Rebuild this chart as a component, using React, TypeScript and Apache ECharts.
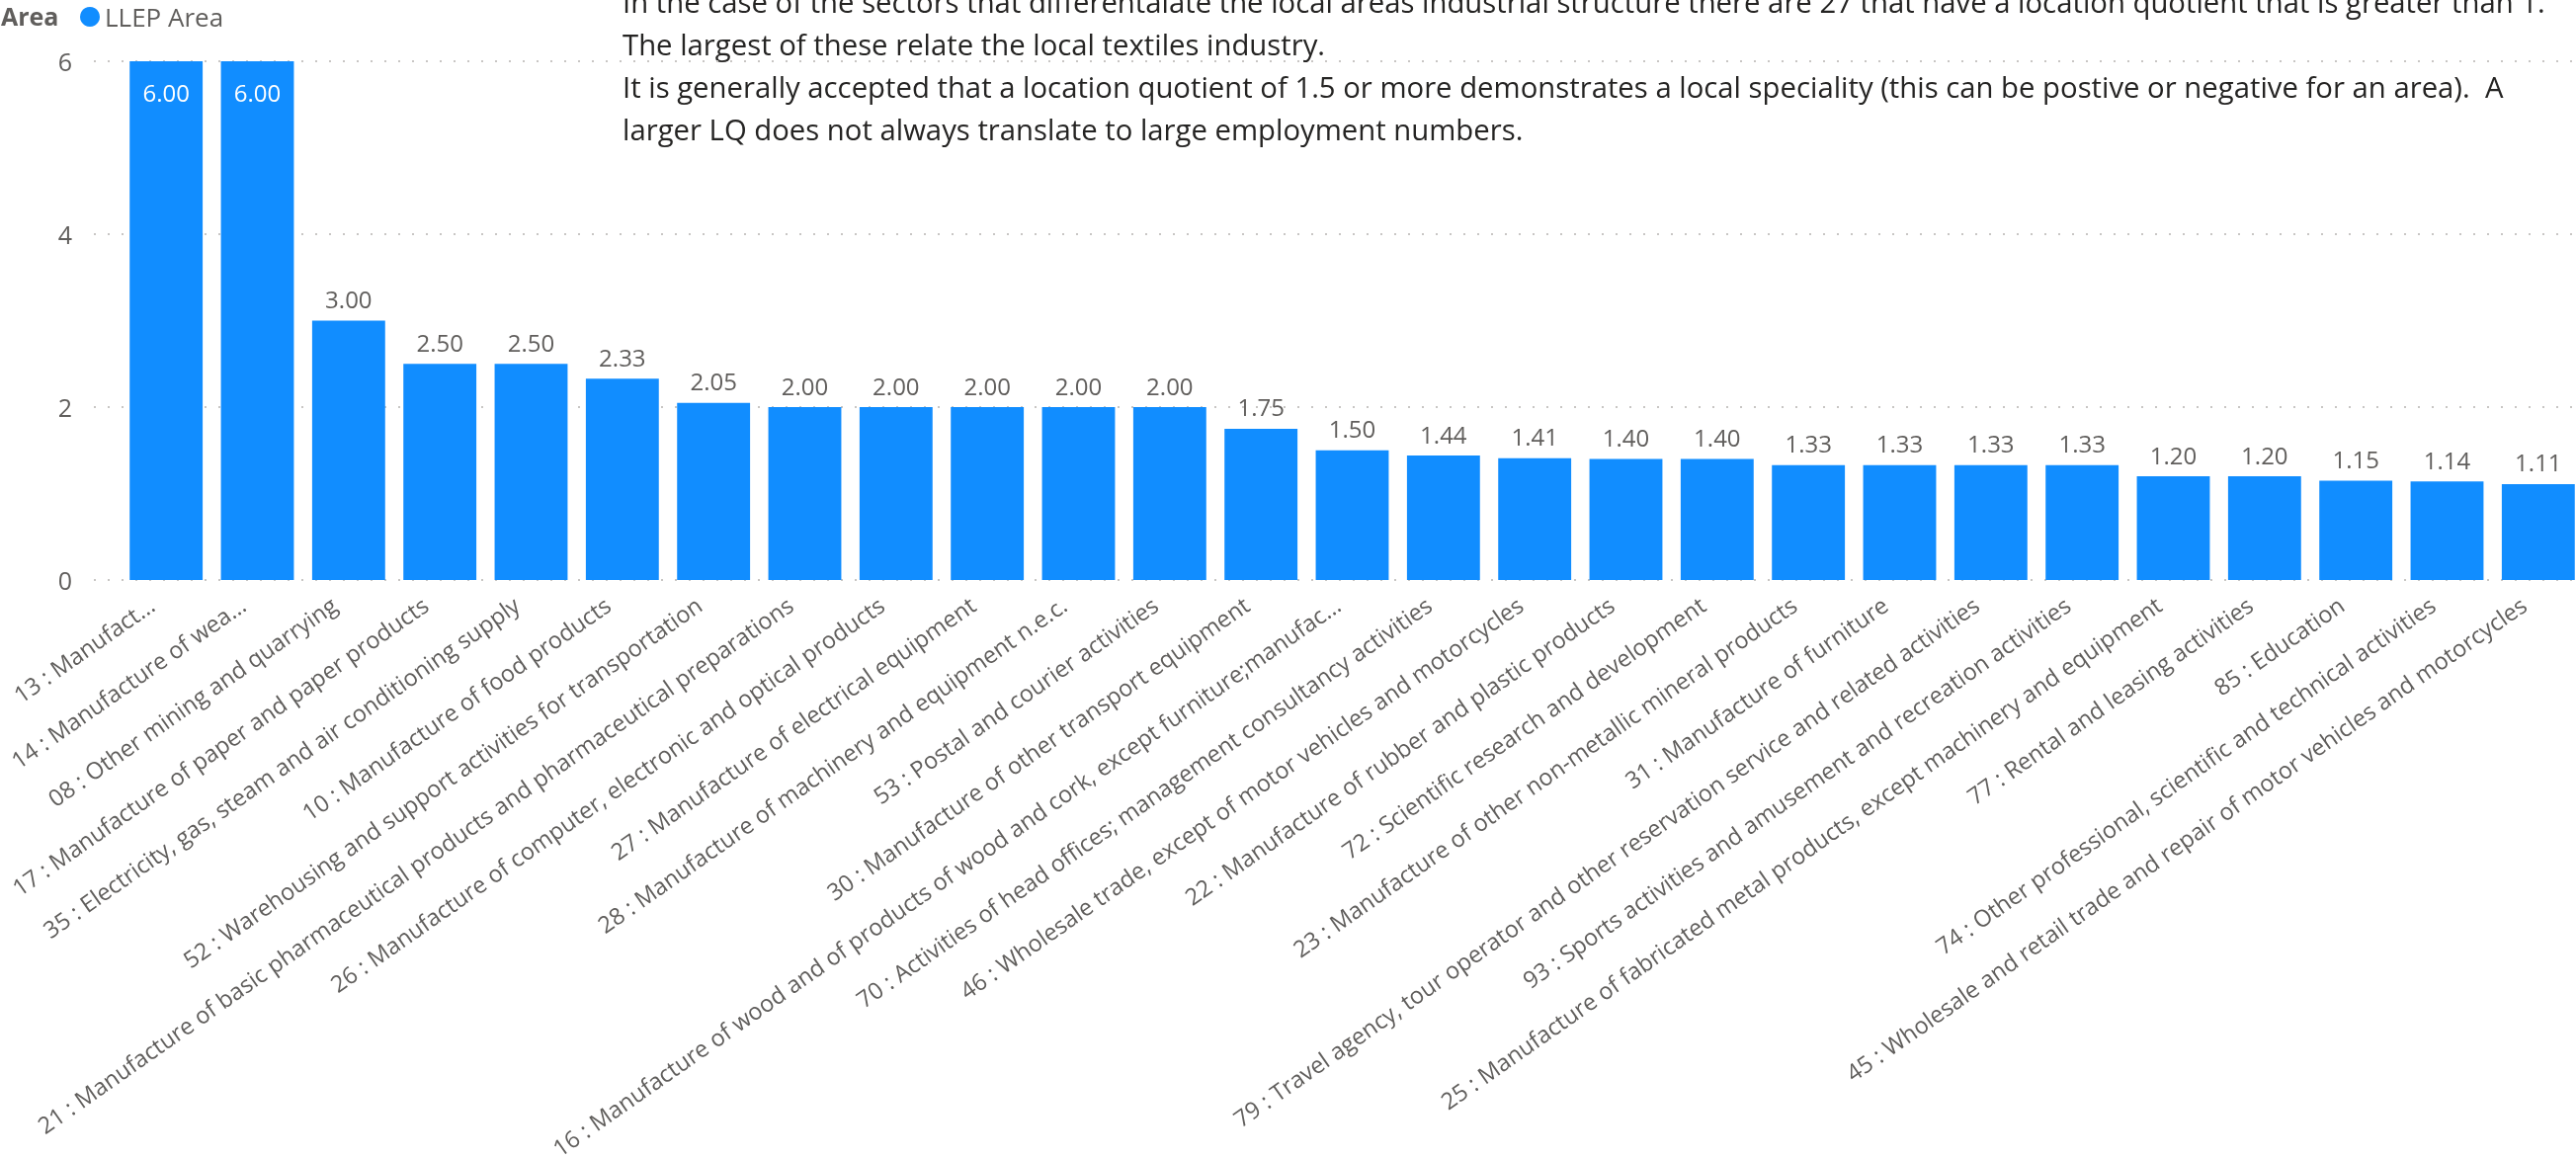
import React, { useEffect, useRef } from "react";
import * as echarts from "echarts";

const categories: string[] = [
  "13 : Manufact...",
  "14 : Manufacture of wea...",
  "08 : Other mining and quarrying",
  "17 : Manufacture of paper and paper products",
  "35 : Electricity, gas, steam and air conditioning supply",
  "10 : Manufacture of food products",
  "52 : Warehousing and support activities for transportation",
  "21 : Manufacture of basic pharmaceutical products and pharmaceutical preparations",
  "26 : Manufacture of computer, electronic and optical products",
  "27 : Manufacture of electrical equipment",
  "28 : Manufacture of machinery and equipment n.e.c.",
  "53 : Postal and courier activities",
  "30 : Manufacture of other transport equipment",
  "16 : Manufacture of wood and of products of wood and cork, except furniture;manufac...",
  "70 : Activities of head offices; management consultancy activities",
  "46 : Wholesale trade, except of motor vehicles and motorcycles",
  "22 : Manufacture of rubber and plastic products",
  "72 : Scientific research and development",
  "23 : Manufacture of other non-metallic mineral products",
  "31 : Manufacture of furniture",
  "79 : Travel agency, tour operator and other reservation service and related activities",
  "93 : Sports activities and amusement and recreation activities",
  "25 : Manufacture of fabricated metal products, except machinery and equipment",
  "77 : Rental and leasing activities",
  "85 : Education",
  "74 : Other professional, scientific and technical activities",
  "45 : Wholesale and retail trade and repair of motor vehicles and motorcycles",
];

const llepValues: number[] = [
  6.0, 6.0, 3.0, 2.5, 2.5, 2.33, 2.05, 2.0, 2.0, 2.0, 2.0, 2.0, 1.75, 1.5, 1.44,
  1.41, 1.4, 1.4, 1.33, 1.33, 1.33, 1.33, 1.2, 1.2, 1.15, 1.14, 1.11,
];

const insideLabelCount = 2;

const yTicks = { min: 0, max: 6, interval: 2 };

const seriesName = "LLEP Area";
const legendTitle = "Area";

const noteLines: string[] = [
  "In the case of the sectors that differentalate the local areas industrial structure there are 27 that have a location quotient that is greater than 1.",
  "The largest of these relate the local textiles industry.",
  "It is generally accepted that a location quotient of 1.5 or more demonstrates a local speciality (this can be postive or negative for an area).  A",
  "larger LQ does not always translate to large employment numbers.",
];

const FONT = "'Segoe UI', 'Open Sans', sans-serif";
const BLUE = "#118DFF";
const GREY = "#605e5c";

export default function App() {
  const ref = useRef<HTMLDivElement>(null);

  useEffect(() => {
    if (!ref.current) return;
    const chart = echarts.init(ref.current, undefined, { renderer: "svg" });

    const barData = llepValues.map((v, i) =>
      i < insideLabelCount
        ? {
            value: v,
            label: {
              position: "insideTop",
              distance: 19,
              color: "#ffffff",
            },
          }
        : { value: v }
    );

    chart.setOption({
      animation: false,
      textStyle: { fontFamily: FONT },
      grid: [
        { left: 122, right: 5, top: 62, bottom: 586, outerBoundsMode: "none", containLabel: false },
        { left: 95, right: 0, top: 62, bottom: 586, outerBoundsMode: "none", containLabel: false },
      ],
      legend: {
        data: [seriesName],
        left: 81,
        top: 4,
        padding: 0,
        icon: "circle",
        itemWidth: 20,
        itemHeight: 20,
        textStyle: { fontSize: 26, color: GREY, fontFamily: FONT },
      },
      xAxis: [
        {
          type: "category",
          gridIndex: 0,
          data: categories,
          axisLine: { show: false },
          axisTick: { show: false },
          splitLine: { show: false },
          axisLabel: {
            rotate: 35,
            interval: 0,
            margin: 12,
            padding: [0, 18, 0, 0],
            fontSize: 23.5,
            color: GREY,
            fontFamily: FONT,
          },
        },
        { type: "value", gridIndex: 1, min: 0, max: 1, show: false },
      ],
      yAxis: [
        {
          type: "value",
          gridIndex: 0,
          min: yTicks.min,
          max: yTicks.max,
          interval: yTicks.interval,
          show: false,
          splitLine: { show: false },
        },
        {
          type: "value",
          gridIndex: 1,
          min: yTicks.min,
          max: yTicks.max,
          interval: yTicks.interval,
          axisLine: { show: false },
          axisTick: { show: false },
          axisLabel: { margin: 22, fontSize: 25, color: GREY, fontFamily: FONT },
          splitLine: {
            show: true,
            lineStyle: { color: "#c8c6c4", width: 2, type: [2, 12] },
          },
        },
      ],
      series: [
        {
          name: seriesName,
          type: "bar",
          xAxisIndex: 0,
          yAxisIndex: 0,
          data: barData,
          barCategoryGap: "20%",
          itemStyle: { color: BLUE },
          label: {
            show: true,
            position: "top",
            distance: 10,
            fontSize: 24,
            color: GREY,
            fontFamily: FONT,
            formatter: (p: any) => Number(p.value).toFixed(2),
          },
        },
      ],
      graphic: [
        {
          type: "text",
          left: 1,
          top: 3,
          style: {
            text: legendTitle,
            font: `bold 25px ${FONT}`,
            fill: GREY,
          },
        },
        {
          type: "text",
          left: 630,
          top: -20,
          style: {
            text: noteLines.join("\n"),
            font: `29.3px ${FONT}`,
            lineHeight: 43,
            fill: "#252423",
          },
        },
      ],
    });

    return () => chart.dispose();
  }, []);

  return (
    <div
      ref={ref}
      style={{ position: "fixed", left: 0, top: 0, width: 2620, height: 1173 }}
    />
  );
}
